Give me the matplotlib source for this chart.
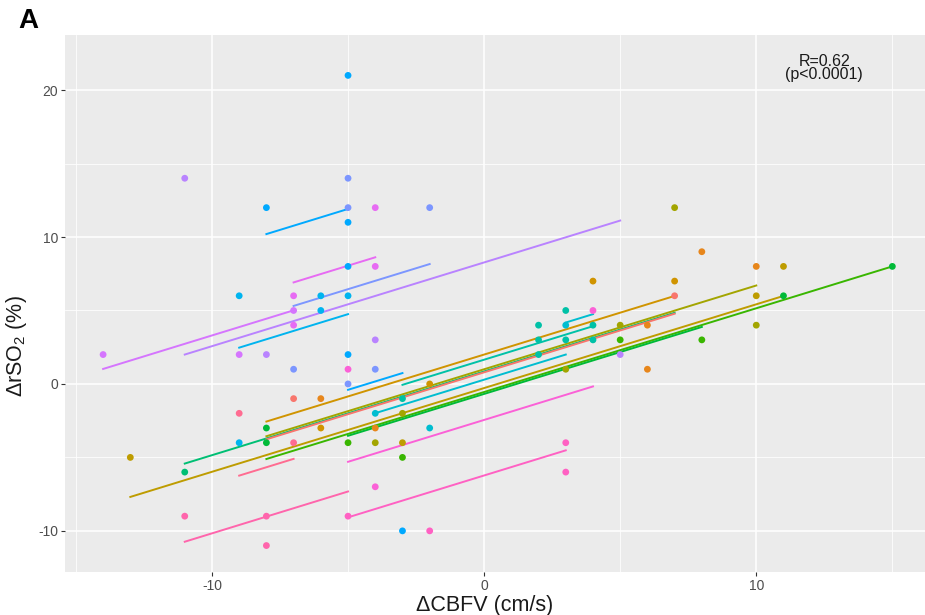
import matplotlib
matplotlib.use("Agg")
import matplotlib.pyplot as plt
import numpy as np

plt.rcParams["font.family"] = ["Liberation Sans", "DejaVu Sans"]
plt.rcParams["mathtext.fontset"] = "custom"
plt.rcParams["mathtext.rm"] = "Liberation Sans"
plt.rcParams["axes.unicode_minus"] = False

# group colours (ggplot hue style)
colors = {
    "red": "#F8766D", "orange": "#E7861B", "gold": "#D09400", "darkgold": "#BE9C00",
    "olive": "#A3A500", "green": "#39B600", "green2": "#00BA38", "gteal": "#00BF74",
    "teal": "#00C1A7", "cyan": "#00BDD0", "cyan2": "#00B4EF", "sky": "#00A9FF",
    "peri": "#7C96FF", "lav": "#B983FF", "purp": "#D575FE", "mag": "#E76BF3",
    "mag2": "#FB61D7", "pink": "#FF61C3", "pink2": "#FF65AC", "pinkred": "#FF6C91",
}

# points: group, ΔCBFV, ΔrSO2
pt_group = ["sky", "sky", "sky", "sky",
            "cyan2", "cyan2", "cyan2", "cyan2", "cyan2",
            "sky", "sky",
            "peri", "peri", "peri", "peri", "peri", "peri",
            "lav", "lav", "lav", "lav",
            "purp", "purp", "purp",
            "mag", "mag", "mag", "mag",
            "mag2", "mag2", "mag2",
            "pink", "pink", "pink", "pink",
            "pink2", "pink2", "pink2",
            "pinkred", "pinkred",
            "red", "red",
            "orange", "orange", "orange", "orange", "orange", "orange",
            "gold", "gold", "gold", "gold",
            "darkgold", "darkgold", "darkgold", "darkgold",
            "olive", "olive", "olive", "olive", "olive", "olive",
            "green2", "green2", "green2", "green2",
            "green", "green", "green", "green",
            "gteal",
            "teal", "teal", "teal", "teal", "teal", "teal", "teal", "teal",
            "cyan", "cyan", "cyan"]
pt_x = [-8, -5, -5, -5,
        -9, -5, -6, -6, -9,
        -5, -3,
        -5, -5, -2, -7, -4, -5,
        -11, -4, 5, -8,
        -14, -9, -7,
        -7, -4, -4, -7,
        -5, 4, -4,
        -5, 3, 3, -2,
        -11, -8, -8,
        -9, -7,
        -7, 7,
        -6, -4, 6, 6, 8, 10,
        4, 7, -2, -6,
        -13, 11, 10, -3,
        7, 5, 10, -3, -4, 3,
        15, 11, -8, -8,
        8, 5, -5, -3,
        -11,
        -3, 2, 4, 2, 3, 4, 2, 3,
        -4, -2, 3]
pt_y = [12, 21, 11, 8,
        6, 6, 6, 5, -4,
        2, -10,
        14, 12, 12, 1, 1, 0,
        14, 3, 2, 2,
        2, 2, 5,
        6, 8, 12, 4,
        1, 5, -7,
        -9, -4, -6, -10,
        -9, -9, -11,
        -2, -4,
        -1, 6,
        -1, -3, 4, 1, 9, 8,
        7, 7, 0, -3,
        -5, 8, 6, -4,
        12, 4, 4, -2, -4, 1,
        8, 6, -3, -4,
        3, 3, -4, -5,
        -6,
        -1, 4, 4, 3, 3, 3, 2, 5,
        -2, -3, 4]

# fitted lines (common slope, one intercept per subject)
slope = 0.57
line_group = ["sky", "cyan2", "sky", "peri", "lav", "purp", "mag", "mag2", "pink", "pink2",
              "pinkred", "gteal", "red", "gold", "darkgold", "olive", "green", "green2",
              "teal", "cyan", "cyan"]
line_x0 = [-8, -9, -5, -7, -11, -14, -7, -5, -5, -11, -9, -11, -8, -8, -13, -8, -8, -5, -3, -4, 3]
line_x1 = [-5, -5, -3, -2, 5, -7, -4, 4, 3, -5, -7, 7, 7, 7, 11, 10, 15, 8, 4, 3, 4]
line_b = [14.76, 7.6, 2.45, 9.3, 8.27, 9.0, 10.9, -2.45, -6.23, -4.47,
          -1.11, 0.85, 0.79, 2.0, -0.28, 1.0, -0.55, -0.68, 1.65, 0.29, 2.47]

fig = plt.figure(figsize=(9.25, 6.15), dpi=100)
ax = fig.add_axes([65 / 925, 1 - 572 / 615, 1 - 65 / 925, (572 - 35) / 615])
ax.set_facecolor("#EBEBEB")
for s in ax.spines.values():
    s.set_visible(False)

ax.set_xlim(-15.4, 16.2)
ax.set_ylim(-12.8, 23.75)
ax.set_xticks([-10, 0, 10])
ax.set_yticks([-10, 0, 10, 20])
ax.set_xticks([-15, -5, 5, 15], minor=True)
ax.set_yticks([-5, 5, 15], minor=True)
ax.grid(which="major", color="white", lw=1.1)
ax.grid(which="minor", color="white", lw=0.55)
ax.set_axisbelow(True)
ax.tick_params(which="major", length=3, width=0.8, color="#333333",
               labelcolor="#4D4D4D", labelsize=10, pad=2)
ax.tick_params(which="minor", length=0)

for g, x0, x1, b in zip(line_group, line_x0, line_x1, line_b):
    xs = np.array([x0, x1])
    ax.plot(xs, b + slope * xs, color=colors[g], lw=1.4, zorder=2)

ax.scatter(pt_x, pt_y, c=[colors[g] for g in pt_group], s=24, lw=0, zorder=3)

ax.text(12.5, 21.5, "R=0.62\n(p<0.0001)", ha="center", va="center",
        fontsize=11.5, color="#1A1A1A", linespacing=0.9)

ax.set_xlabel("ΔCBFV (cm/s)", fontsize=15.5, color="#1A1A1A")
ax.set_ylabel("ΔrSO$_{\\mathrm{2}}$ (%)", fontsize=15.5, color="#1A1A1A")
ax.xaxis.set_label_coords(0.488, -0.042)
ax.yaxis.set_label_coords(-0.042, 0.42)

fig.text(18 / 925, 1 - 21 / 615, "A", fontsize=20, fontweight="bold", va="center")

fig.savefig("out.png", dpi=100)
